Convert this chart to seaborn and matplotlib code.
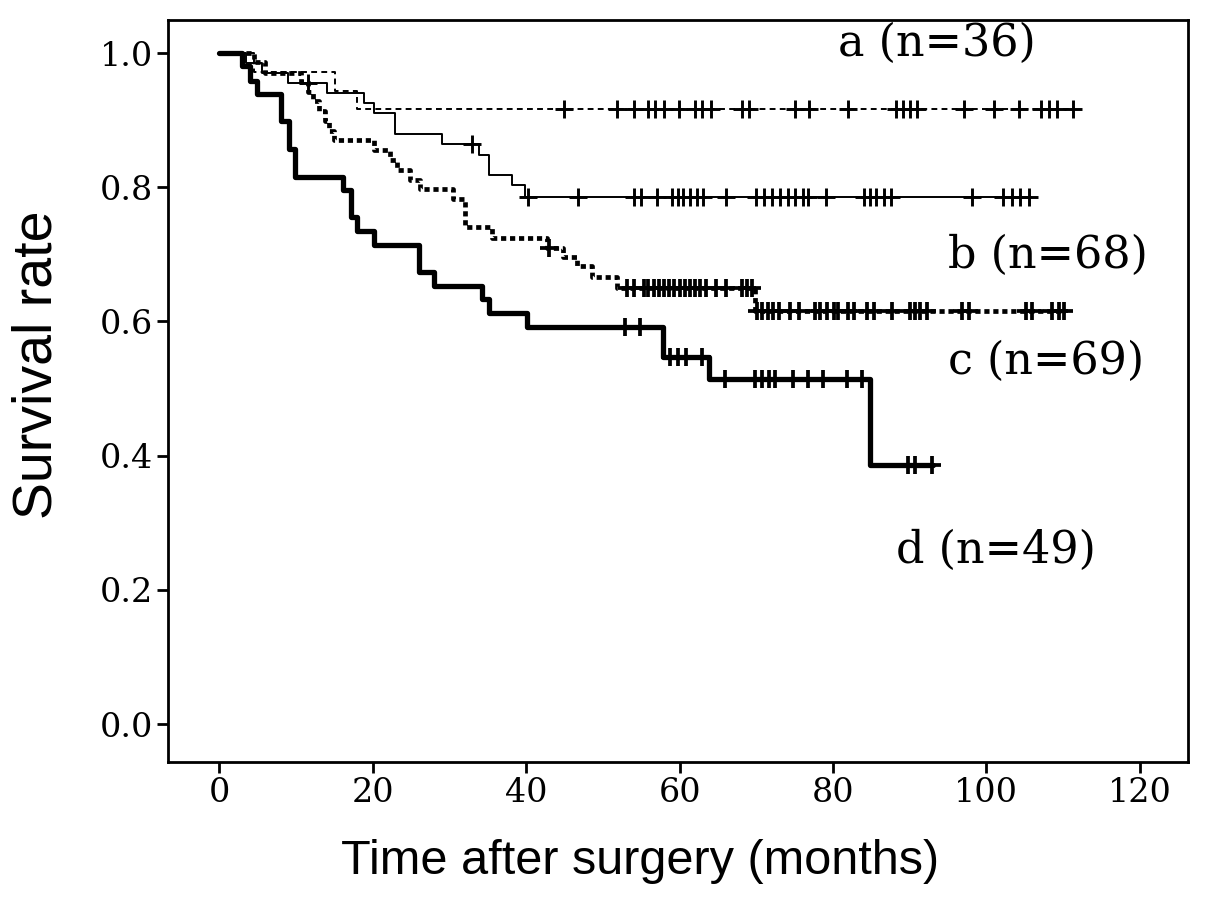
import numpy as np
import pandas as pd
import matplotlib
matplotlib.use("Agg")
import matplotlib.pyplot as plt
import seaborn as sns

# ---- data ----
a_event_t = [4.5, 15.1, 17.9]
a_surv = [0.972, 0.944, 0.917]
a_end = 111.3
a_cens = [44.9, 51.9, 54.0, 55.9, 56.8, 58.0, 59.9, 62.0, 62.9, 64.1, 68.1, 69.0,
          75.1, 76.9, 81.9, 88.2, 89.1, 90.1, 91.0, 97.1, 101.0, 104.3, 107.1,
          108.1, 109.2, 111.3]

b_event_t = [3.5, 5.5, 9.0, 14.0, 18.8, 20.1, 22.9, 29.0, 33.9, 35.1, 38.1, 39.9]
b_surv = [0.985, 0.971, 0.956, 0.941, 0.926, 0.910, 0.880, 0.864, 0.848, 0.819,
          0.803, 0.786]
b_end = 105.8
b_cens = [11.5, 32.9, 40.2, 46.7, 54.0, 55.0, 57.0, 59.0, 59.8, 60.5, 61.3, 62.3,
          63.0, 66.0, 70.0, 71.0, 72.0, 73.1, 74.1, 75.1, 76.1, 76.8, 79.1, 84.1,
          84.8, 85.6, 86.6, 87.6, 98.1, 102.1, 103.4, 104.4, 105.6]

c_event_t = [4.5, 6.0, 10.7, 11.5, 12.2, 13.0, 13.8, 14.3, 14.9, 20.1, 22.3, 23.2,
             24.9, 26.2, 30.5, 32.0, 35.6, 42.7, 44.8, 46.6, 48.6, 51.8, 69.8]
c_surv = [0.986, 0.971, 0.957, 0.942, 0.928, 0.913, 0.899, 0.884, 0.870, 0.855,
          0.840, 0.826, 0.811, 0.797, 0.782, 0.741, 0.725, 0.709, 0.696, 0.682,
          0.667, 0.650, 0.616]
c_end = 110.3
c_cens = [43.0, 53.2, 54.1, 55.3, 55.9, 56.6, 57.3, 58.0, 58.6, 59.3, 60.0, 60.7,
          61.3, 62.0, 62.7, 63.4, 64.7, 66.1, 68.1, 68.8, 69.5, 70.1, 70.8, 71.5,
          72.2, 72.9, 74.4, 75.6, 77.6, 78.3, 79.2, 80.1, 80.7, 81.9, 82.8, 84.4,
          85.3, 87.7, 90.0, 90.7, 91.4, 92.3, 96.8, 97.7, 105.1, 106.0, 108.5,
          109.4, 110.1]

d_event_t = [2.9, 4.0, 4.9, 8.0, 9.1, 9.9, 16.1, 17.1, 18.0, 20.2, 26.0, 28.0,
             34.2, 35.1, 40.1, 57.9, 63.8, 84.8]
d_surv = [0.980, 0.959, 0.939, 0.898, 0.857, 0.816, 0.796, 0.755, 0.735, 0.714,
          0.673, 0.653, 0.633, 0.612, 0.592, 0.547, 0.514, 0.386]
d_end = 93.0
d_cens = [52.9, 54.8, 58.8, 59.8, 60.9, 62.9, 65.9, 69.8, 70.7, 71.6, 72.5, 74.8,
          76.8, 78.7, 81.8, 83.8, 89.8, 90.7, 92.9]

group_labels = ["a (n=36)", "b (n=68)", "c (n=69)", "d (n=49)"]
x_ticks = [0, 20, 40, 60, 80, 100, 120]
y_ticks = [0.0, 0.2, 0.4, 0.6, 0.8, 1.0]

# ---- styling ----
sns.set_style("ticks")
plt.rcParams["font.family"] = ["DejaVu Serif"]
plt.rcParams["axes.linewidth"] = 2.0

fig = plt.figure(figsize=(12.05, 9.17), dpi=100)
ax = fig.add_axes([0.1394, 0.1694, 0.8466, 0.8086])

groups = [
    (a_event_t, a_surv, a_end, a_cens, dict(lw=1.4, ls=(0, (3.0, 2.2))), 1.4),
    (b_event_t, b_surv, b_end, b_cens, dict(lw=1.4, ls="-"), 1.4),
    (c_event_t, c_surv, c_end, c_cens, dict(lw=3.4, ls=(0, (1.1, 0.8))), 2.0),
    (d_event_t, d_surv, d_end, d_cens, dict(lw=3.8, ls="-"), 2.0),
]

for ev_t, surv, t_end, cens, style, mew in groups:
    t = [0.0] + list(ev_t) + [t_end]
    s = [1.0] + list(surv) + [surv[-1]]
    df = pd.DataFrame({"time": t, "surv": s})
    sns.lineplot(data=df, x="time", y="surv", drawstyle="steps-post",
                 estimator=None, sort=False, color="black",
                 linewidth=style["lw"], linestyle=style["ls"], ax=ax)
    # survival level at each censored time
    ev = np.asarray(ev_t)
    sv = np.asarray(surv)
    idx = np.searchsorted(ev, np.asarray(cens), side="right") - 1
    cy = np.where(idx >= 0, sv[np.clip(idx, 0, None)], 1.0)
    cdf = pd.DataFrame({"time": cens, "surv": cy})
    sns.scatterplot(data=cdf, x="time", y="surv", marker="+", s=150,
                    color="black", linewidth=mew + 0.7, ax=ax, zorder=5)

ax.set_xlim(-6.7, 126.3)
ax.set_ylim(-0.056, 1.049)
ax.set_xticks(x_ticks)
ax.set_xticklabels([str(v) for v in x_ticks])
ax.set_yticks(y_ticks)
ax.set_yticklabels([f"{v:.1f}" for v in y_ticks])
ax.tick_params(axis="both", direction="out", length=8, width=2.0,
               labelsize=24, colors="black", pad=3)
for sp in ax.spines.values():
    sp.set_visible(True)
    sp.set_linewidth(2.0)
    sp.set_color("black")

ax.set_xlabel("Time after surgery (months)", family=["Liberation Sans"],
              fontsize=35, color="black")
ax.set_ylabel("Survival rate", family=["Liberation Sans"],
              fontsize=40, color="black")
ax.xaxis.set_label_coords(0.4627, -0.104)
ax.yaxis.set_label_coords(-0.102, 0.535)

label_pos = [(80.6, 1.015), (95.0, 0.698), (95.0, 0.540), (88.2, 0.259)]
for lab, (lx, ly) in zip(group_labels, label_pos):
    ax.text(lx, ly, lab, ha="left", va="center", fontsize=32,
            family=["DejaVu Serif"], color="black")

fig.savefig("out.png", dpi=100, facecolor="white")
